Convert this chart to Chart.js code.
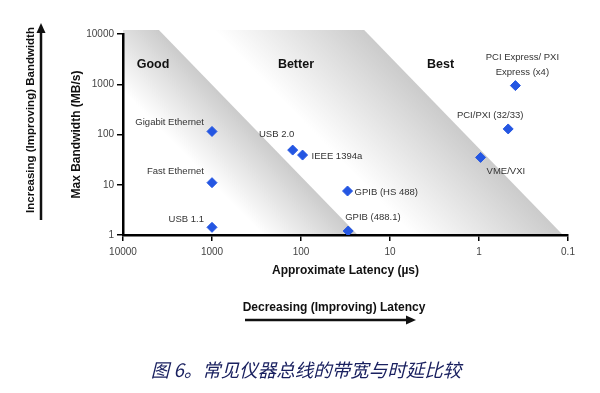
<!DOCTYPE html>
<html>
<head>
<meta charset="utf-8">
<script src="https://cdn.jsdelivr.net/npm/chart.js@4/dist/chart.umd.min.js"></script>
<style>
  html, body { margin: 0; padding: 0; background: #fff; }
  canvas { display: block; }
</style>
</head>
<body>
<canvas id="chart-latency" width="600" height="393"></canvas>
<script>
// buses, latency (us) and bandwidth (MB/s)
const buses = [
  "Gigabit Ethernet",
  "Fast Ethernet",
  "USB 1.1",
  "USB 2.0",
  "IEEE 1394a",
  "GPIB (HS 488)",
  "GPIB (488.1)",
  "PCI Express/ PXI|Express (x4)",
  "PCI/PXI (32/33)",
  "VME/VXI",
];
const latency = [1000, 1000, 1000, 124, 96, 30, 29.5, 0.39, 0.47, 0.96];
const bandwidth = [115, 11, 1.42, 49, 39, 7.5, 1.2, 940, 129, 35];

const xTicks = [10000, 1000, 100, 10, 1, 0.1];
const yTicks = [1, 10, 100, 1000, 10000];

// the two shaded bands: latency where the hard edge meets 10000 and 1 MB/s
const bandTopLatency = [3950, 19.5];
const bandBottomLatency = [23, 0.114];

const zones = ["Good", "Better", "Best"];
const zoneLatency = [4600, 114, 2.7];
const zoneBandwidth = 2500;

// label placement next to each point: [dx, dy, align]
const labelPos = [
  [-8, -9, "right"],
  [-8, -11, "right"],
  [-8, -8, "right"],
  [-16, -16, "center"],
  [9, 1, "left"],
  [7, 1, "left"],
  [-3, -14, "left"],
  [7, -28, "center"],
  [-18, -14, "center"],
  [6, 14, "left"],
];

const ctx = document.getElementById("chart-latency").getContext("2d");

// drawn before the axes so the axis lines stay on top
const bands = {
  id: "bands",
  beforeDraw(chart) {
    const { ctx, chartArea: a, scales } = chart;
    const fade = [95, 150];
    ctx.save();
    ctx.beginPath();
    ctx.rect(a.left, a.top - 4, a.right - a.left, a.bottom - a.top + 4);
    ctx.clip();
    bandTopLatency.forEach((lt, i) => {
      const x1 = scales.x.getPixelForValue(lt);
      const y1 = scales.y.getPixelForValue(10000) - 4;
      const x2 = scales.x.getPixelForValue(bandBottomLatency[i]);
      const y2 = scales.y.getPixelForValue(1);
      const w = fade[i];
      const len = Math.hypot(x2 - x1, y2 - y1);
      const dx = (x2 - x1) / len, dy = (y2 - y1) / len;
      const dist = w * dy;
      const g = ctx.createLinearGradient(x1, y1, x1 - dy * dist, y1 + dx * dist);
      g.addColorStop(0, "rgb(203,203,203)");
      g.addColorStop(0.3, "rgb(219,219,219)");
      g.addColorStop(1, "rgba(255,255,255,1)");
      ctx.fillStyle = g;
      ctx.beginPath();
      ctx.moveTo(x1, y1);
      ctx.lineTo(x2, y2);
      ctx.lineTo(x2 - w, y2);
      ctx.lineTo(x1 - w, y1);
      ctx.closePath();
      ctx.fill();
    });
    ctx.restore();
  },
};

function arrow(ctx, x1, y1, x2, y2) {
  const ang = Math.atan2(y2 - y1, x2 - x1);
  ctx.lineWidth = 2.5;
  ctx.beginPath();
  ctx.moveTo(x1, y1);
  ctx.lineTo(x2 - 6 * Math.cos(ang), y2 - 6 * Math.sin(ang));
  ctx.stroke();
  ctx.beginPath();
  ctx.moveTo(x2, y2);
  ctx.lineTo(x2 - 10 * Math.cos(ang) + 4.5 * Math.sin(ang), y2 - 10 * Math.sin(ang) - 4.5 * Math.cos(ang));
  ctx.lineTo(x2 - 10 * Math.cos(ang) - 4.5 * Math.sin(ang), y2 - 10 * Math.sin(ang) + 4.5 * Math.cos(ang));
  ctx.closePath();
  ctx.fill();
}

const notes = {
  id: "notes",
  afterDraw(chart) {
    const { ctx, scales } = chart;
    const pts = chart.getDatasetMeta(0).data;
    ctx.save();
    ctx.textBaseline = "middle";

    // zone names
    ctx.fillStyle = "#111";
    ctx.font = "bold 12.5px 'Liberation Sans', Arial, sans-serif";
    ctx.textAlign = "center";
    zones.forEach((z, i) => {
      ctx.fillText(z, scales.x.getPixelForValue(zoneLatency[i]), scales.y.getPixelForValue(zoneBandwidth));
    });

    // point labels
    ctx.fillStyle = "#333";
    ctx.font = "9.5px 'Liberation Sans', Arial, sans-serif";
    buses.forEach((name, i) => {
      const p = pts[i];
      const [dx, dy, al] = labelPos[i];
      ctx.textAlign = al;
      name.split("|").forEach((line, k) => {
        ctx.fillText(line, p.x + dx, p.y + dy + k * 15);
      });
    });

    // outer arrows and texts
    ctx.fillStyle = "#111";
    ctx.strokeStyle = "#111";
    ctx.font = "bold 11.5px 'Liberation Sans', Arial, sans-serif";
    ctx.save();
    ctx.translate(31, 120);
    ctx.rotate(-Math.PI / 2);
    ctx.textAlign = "center";
    ctx.fillText("Increasing (Improving) Bandwidth", 0, 0);
    ctx.restore();
    arrow(ctx, 41, 220, 41, 23);

    ctx.font = "bold 12px 'Liberation Sans', Arial, sans-serif";
    ctx.textAlign = "center";
    ctx.fillText("Decreasing (Improving) Latency", 334, 308);
    arrow(ctx, 245, 320, 416, 320);

    // caption
    ctx.fillStyle = "#1a2160";
    ctx.font = "italic 18.5px 'Noto Sans CJK SC', sans-serif";
    ctx.fillText("图 6。常见仪器总线的带宽与时延比较", 306, 370);
    ctx.restore();
  },
};

const axisFont = { family: "'Liberation Sans', Arial, sans-serif", size: 10 };
const titleFont = { family: "'Liberation Sans', Arial, sans-serif", size: 12, weight: "bold" };

new Chart(ctx, {
  type: "scatter",
  data: {
    datasets: [
      {
        data: latency.map((x, i) => ({ x: x, y: bandwidth[i] })),
        pointStyle: "rectRot",
        radius: 5,
        backgroundColor: "#2456e2",
        borderColor: "#2456e2",
        borderWidth: 1,
      },
    ],
  },
  options: {
    responsive: false,
    animation: false,
    layout: { padding: { left: 66, top: 34, right: 32, bottom: 113 } },
    plugins: {
      legend: { display: false },
      tooltip: { enabled: false },
    },
    scales: {
      x: {
        type: "logarithmic",
        reverse: true,
        min: 0.1,
        max: 10000,
        afterBuildTicks: (s) => {
          s.ticks = xTicks.map((v) => ({ value: v }));
        },
        afterFit: (s) => {
          s.height = 45;
        },
        ticks: {
          color: "#444",
          font: axisFont,
          padding: 5,
          maxRotation: 0,
          callback: (v) => String(v),
        },
        grid: { drawOnChartArea: false, drawTicks: true, tickLength: 6, color: "#000", lineWidth: 1.5 },
        border: { color: "#000", width: 2.5 },
        title: {
          display: true,
          text: "Approximate Latency (µs)",
          color: "#111",
          font: titleFont,
          padding: { top: 0, bottom: 2 },
        },
      },
      y: {
        type: "logarithmic",
        min: 1,
        max: 10000,
        afterBuildTicks: (s) => {
          s.ticks = yTicks.map((v) => ({ value: v }));
        },
        afterFit: (s) => {
          s.width = 57;
        },
        ticks: {
          color: "#444",
          font: axisFont,
          padding: 3,
          callback: (v) => String(v),
        },
        grid: { drawOnChartArea: false, drawTicks: true, tickLength: 6, color: "#000", lineWidth: 1.5 },
        border: { color: "#000", width: 2.5 },
        title: {
          display: true,
          text: "Max Bandwidth (MB/s)",
          color: "#111",
          font: titleFont,
          padding: { top: 3, bottom: 0 },
        },
      },
    },
  },
  plugins: [bands, notes],
});
</script>
</body>
</html>
